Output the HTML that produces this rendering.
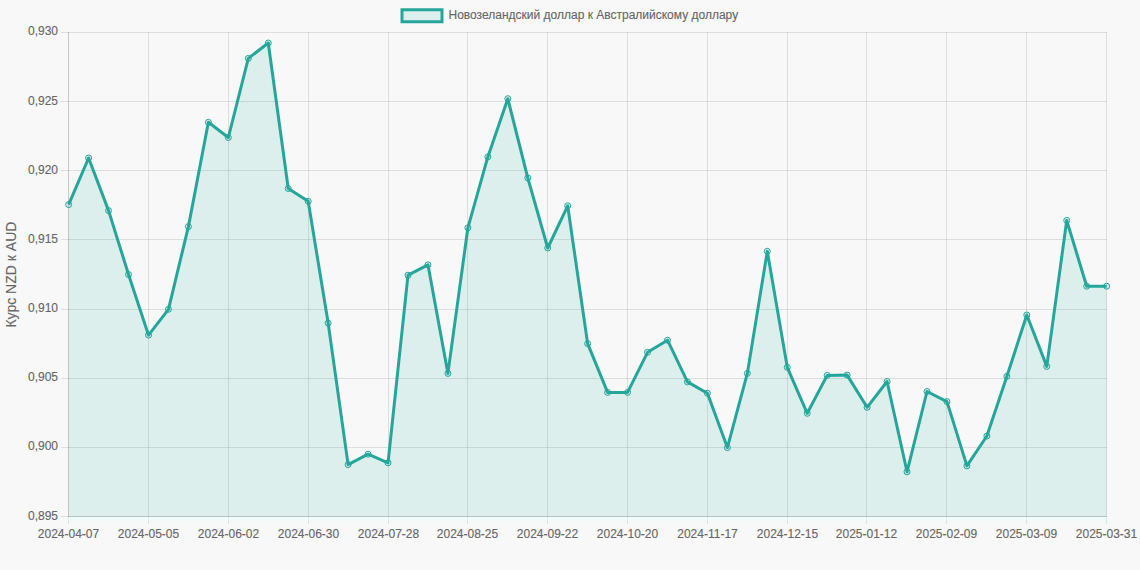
<!DOCTYPE html>
<html><head><meta charset="utf-8"><style>html,body{margin:0;padding:0;background:#f8f8f8;}svg{display:block}</style></head>
<body><svg width="1140" height="570" viewBox="0 0 1140 570">
<rect x="0" y="0" width="1140" height="570" fill="#f8f8f8"/>
<path d="M61 32.5H1107 M61 101.5H1107 M61 170.5H1107 M61 239.5H1107 M61 309.5H1107 M61 378.5H1107 M61 447.5H1107 M61 516.5H1107 M68.5 32V524 M148.5 32V524 M228.5 32V524 M308.5 32V524 M388.5 32V524 M467.5 32V524 M547.5 32V524 M627.5 32V524 M707.5 32V524 M787.5 32V524 M866.5 32V524 M946.5 32V524 M1026.5 32V524 M1106.5 32V524" stroke="rgba(0,0,0,0.1)" stroke-width="1" fill="none"/>
<path d="M68.5 32V517M68 516.5H1107" stroke="rgba(0,0,0,0.1)" stroke-width="1" fill="none"/>
<defs><linearGradient id="gb" x1="0" y1="0" x2="0" y2="1"><stop offset="0" stop-color="rgb(225,255,252)" stop-opacity="0.55"/><stop offset="1" stop-color="rgb(225,255,252)" stop-opacity="0"/></linearGradient></defs><rect x="68" y="517" width="1039" height="7" fill="url(#gb)"/>
<polygon points="68.65,204.60 88.61,158.00 108.57,210.60 128.53,274.50 148.50,335.10 168.46,309.30 188.42,226.60 208.38,122.30 228.34,137.50 248.30,58.40 268.27,43.00 288.23,188.50 308.19,201.30 328.15,323.10 348.11,464.60 368.07,454.20 388.03,462.80 408.00,275.20 427.96,264.80 447.92,373.40 467.88,227.80 487.84,156.90 507.80,98.70 527.77,177.90 547.73,248.00 567.69,205.80 587.65,343.60 607.61,392.40 627.57,392.40 647.53,352.30 667.50,340.20 687.46,381.90 707.42,393.20 727.38,447.60 747.34,373.40 767.30,251.30 787.27,367.30 807.23,413.30 827.19,375.40 847.15,375.10 867.11,407.30 887.07,381.50 907.03,471.80 927.00,391.50 946.96,401.60 966.92,465.90 986.88,436.00 1006.84,376.40 1026.80,315.00 1046.77,366.40 1066.73,220.40 1086.69,286.20 1106.65,286.20 1106.65,516.5 68.65,516.5" fill="rgba(40,178,164,0.13)"/>
<polyline points="68.65,204.60 88.61,158.00 108.57,210.60 128.53,274.50 148.50,335.10 168.46,309.30 188.42,226.60 208.38,122.30 228.34,137.50 248.30,58.40 268.27,43.00 288.23,188.50 308.19,201.30 328.15,323.10 348.11,464.60 368.07,454.20 388.03,462.80 408.00,275.20 427.96,264.80 447.92,373.40 467.88,227.80 487.84,156.90 507.80,98.70 527.77,177.90 547.73,248.00 567.69,205.80 587.65,343.60 607.61,392.40 627.57,392.40 647.53,352.30 667.50,340.20 687.46,381.90 707.42,393.20 727.38,447.60 747.34,373.40 767.30,251.30 787.27,367.30 807.23,413.30 827.19,375.40 847.15,375.10 867.11,407.30 887.07,381.50 907.03,471.80 927.00,391.50 946.96,401.60 966.92,465.90 986.88,436.00 1006.84,376.40 1026.80,315.00 1046.77,366.40 1066.73,220.40 1086.69,286.20 1106.65,286.20" fill="none" stroke="rgb(38,166,154)" stroke-width="3" stroke-linejoin="round"/>
<circle cx="68.65" cy="204.60" r="3" fill="rgba(40,178,164,0.13)" stroke="rgb(38,166,154)" stroke-width="1"/>
<circle cx="88.61" cy="158.00" r="3" fill="rgba(40,178,164,0.13)" stroke="rgb(38,166,154)" stroke-width="1"/>
<circle cx="108.57" cy="210.60" r="3" fill="rgba(40,178,164,0.13)" stroke="rgb(38,166,154)" stroke-width="1"/>
<circle cx="128.53" cy="274.50" r="3" fill="rgba(40,178,164,0.13)" stroke="rgb(38,166,154)" stroke-width="1"/>
<circle cx="148.50" cy="335.10" r="3" fill="rgba(40,178,164,0.13)" stroke="rgb(38,166,154)" stroke-width="1"/>
<circle cx="168.46" cy="309.30" r="3" fill="rgba(40,178,164,0.13)" stroke="rgb(38,166,154)" stroke-width="1"/>
<circle cx="188.42" cy="226.60" r="3" fill="rgba(40,178,164,0.13)" stroke="rgb(38,166,154)" stroke-width="1"/>
<circle cx="208.38" cy="122.30" r="3" fill="rgba(40,178,164,0.13)" stroke="rgb(38,166,154)" stroke-width="1"/>
<circle cx="228.34" cy="137.50" r="3" fill="rgba(40,178,164,0.13)" stroke="rgb(38,166,154)" stroke-width="1"/>
<circle cx="248.30" cy="58.40" r="3" fill="rgba(40,178,164,0.13)" stroke="rgb(38,166,154)" stroke-width="1"/>
<circle cx="268.27" cy="43.00" r="3" fill="rgba(40,178,164,0.13)" stroke="rgb(38,166,154)" stroke-width="1"/>
<circle cx="288.23" cy="188.50" r="3" fill="rgba(40,178,164,0.13)" stroke="rgb(38,166,154)" stroke-width="1"/>
<circle cx="308.19" cy="201.30" r="3" fill="rgba(40,178,164,0.13)" stroke="rgb(38,166,154)" stroke-width="1"/>
<circle cx="328.15" cy="323.10" r="3" fill="rgba(40,178,164,0.13)" stroke="rgb(38,166,154)" stroke-width="1"/>
<circle cx="348.11" cy="464.60" r="3" fill="rgba(40,178,164,0.13)" stroke="rgb(38,166,154)" stroke-width="1"/>
<circle cx="368.07" cy="454.20" r="3" fill="rgba(40,178,164,0.13)" stroke="rgb(38,166,154)" stroke-width="1"/>
<circle cx="388.03" cy="462.80" r="3" fill="rgba(40,178,164,0.13)" stroke="rgb(38,166,154)" stroke-width="1"/>
<circle cx="408.00" cy="275.20" r="3" fill="rgba(40,178,164,0.13)" stroke="rgb(38,166,154)" stroke-width="1"/>
<circle cx="427.96" cy="264.80" r="3" fill="rgba(40,178,164,0.13)" stroke="rgb(38,166,154)" stroke-width="1"/>
<circle cx="447.92" cy="373.40" r="3" fill="rgba(40,178,164,0.13)" stroke="rgb(38,166,154)" stroke-width="1"/>
<circle cx="467.88" cy="227.80" r="3" fill="rgba(40,178,164,0.13)" stroke="rgb(38,166,154)" stroke-width="1"/>
<circle cx="487.84" cy="156.90" r="3" fill="rgba(40,178,164,0.13)" stroke="rgb(38,166,154)" stroke-width="1"/>
<circle cx="507.80" cy="98.70" r="3" fill="rgba(40,178,164,0.13)" stroke="rgb(38,166,154)" stroke-width="1"/>
<circle cx="527.77" cy="177.90" r="3" fill="rgba(40,178,164,0.13)" stroke="rgb(38,166,154)" stroke-width="1"/>
<circle cx="547.73" cy="248.00" r="3" fill="rgba(40,178,164,0.13)" stroke="rgb(38,166,154)" stroke-width="1"/>
<circle cx="567.69" cy="205.80" r="3" fill="rgba(40,178,164,0.13)" stroke="rgb(38,166,154)" stroke-width="1"/>
<circle cx="587.65" cy="343.60" r="3" fill="rgba(40,178,164,0.13)" stroke="rgb(38,166,154)" stroke-width="1"/>
<circle cx="607.61" cy="392.40" r="3" fill="rgba(40,178,164,0.13)" stroke="rgb(38,166,154)" stroke-width="1"/>
<circle cx="627.57" cy="392.40" r="3" fill="rgba(40,178,164,0.13)" stroke="rgb(38,166,154)" stroke-width="1"/>
<circle cx="647.53" cy="352.30" r="3" fill="rgba(40,178,164,0.13)" stroke="rgb(38,166,154)" stroke-width="1"/>
<circle cx="667.50" cy="340.20" r="3" fill="rgba(40,178,164,0.13)" stroke="rgb(38,166,154)" stroke-width="1"/>
<circle cx="687.46" cy="381.90" r="3" fill="rgba(40,178,164,0.13)" stroke="rgb(38,166,154)" stroke-width="1"/>
<circle cx="707.42" cy="393.20" r="3" fill="rgba(40,178,164,0.13)" stroke="rgb(38,166,154)" stroke-width="1"/>
<circle cx="727.38" cy="447.60" r="3" fill="rgba(40,178,164,0.13)" stroke="rgb(38,166,154)" stroke-width="1"/>
<circle cx="747.34" cy="373.40" r="3" fill="rgba(40,178,164,0.13)" stroke="rgb(38,166,154)" stroke-width="1"/>
<circle cx="767.30" cy="251.30" r="3" fill="rgba(40,178,164,0.13)" stroke="rgb(38,166,154)" stroke-width="1"/>
<circle cx="787.27" cy="367.30" r="3" fill="rgba(40,178,164,0.13)" stroke="rgb(38,166,154)" stroke-width="1"/>
<circle cx="807.23" cy="413.30" r="3" fill="rgba(40,178,164,0.13)" stroke="rgb(38,166,154)" stroke-width="1"/>
<circle cx="827.19" cy="375.40" r="3" fill="rgba(40,178,164,0.13)" stroke="rgb(38,166,154)" stroke-width="1"/>
<circle cx="847.15" cy="375.10" r="3" fill="rgba(40,178,164,0.13)" stroke="rgb(38,166,154)" stroke-width="1"/>
<circle cx="867.11" cy="407.30" r="3" fill="rgba(40,178,164,0.13)" stroke="rgb(38,166,154)" stroke-width="1"/>
<circle cx="887.07" cy="381.50" r="3" fill="rgba(40,178,164,0.13)" stroke="rgb(38,166,154)" stroke-width="1"/>
<circle cx="907.03" cy="471.80" r="3" fill="rgba(40,178,164,0.13)" stroke="rgb(38,166,154)" stroke-width="1"/>
<circle cx="927.00" cy="391.50" r="3" fill="rgba(40,178,164,0.13)" stroke="rgb(38,166,154)" stroke-width="1"/>
<circle cx="946.96" cy="401.60" r="3" fill="rgba(40,178,164,0.13)" stroke="rgb(38,166,154)" stroke-width="1"/>
<circle cx="966.92" cy="465.90" r="3" fill="rgba(40,178,164,0.13)" stroke="rgb(38,166,154)" stroke-width="1"/>
<circle cx="986.88" cy="436.00" r="3" fill="rgba(40,178,164,0.13)" stroke="rgb(38,166,154)" stroke-width="1"/>
<circle cx="1006.84" cy="376.40" r="3" fill="rgba(40,178,164,0.13)" stroke="rgb(38,166,154)" stroke-width="1"/>
<circle cx="1026.80" cy="315.00" r="3" fill="rgba(40,178,164,0.13)" stroke="rgb(38,166,154)" stroke-width="1"/>
<circle cx="1046.77" cy="366.40" r="3" fill="rgba(40,178,164,0.13)" stroke="rgb(38,166,154)" stroke-width="1"/>
<circle cx="1066.73" cy="220.40" r="3" fill="rgba(40,178,164,0.13)" stroke="rgb(38,166,154)" stroke-width="1"/>
<circle cx="1086.69" cy="286.20" r="3" fill="rgba(40,178,164,0.13)" stroke="rgb(38,166,154)" stroke-width="1"/>
<circle cx="1106.65" cy="286.20" r="3" fill="rgba(40,178,164,0.13)" stroke="rgb(38,166,154)" stroke-width="1"/>
<g font-family="Liberation Sans, sans-serif" font-size="12" fill="#666" stroke="#666" stroke-width="0.12"><text x="58.0" y="35" text-anchor="end">0,930</text><text x="58.0" y="105" text-anchor="end">0,925</text><text x="58.0" y="174" text-anchor="end">0,920</text><text x="58.0" y="243" text-anchor="end">0,915</text><text x="58.0" y="312" text-anchor="end">0,910</text><text x="58.0" y="381" text-anchor="end">0,905</text><text x="58.0" y="450" text-anchor="end">0,900</text><text x="58.0" y="520" text-anchor="end">0,895</text><text x="68.5" y="538" text-anchor="middle">2024-04-07</text><text x="148.5" y="538" text-anchor="middle">2024-05-05</text><text x="228.5" y="538" text-anchor="middle">2024-06-02</text><text x="308.5" y="538" text-anchor="middle">2024-06-30</text><text x="388.5" y="538" text-anchor="middle">2024-07-28</text><text x="467.5" y="538" text-anchor="middle">2024-08-25</text><text x="547.5" y="538" text-anchor="middle">2024-09-22</text><text x="627.5" y="538" text-anchor="middle">2024-10-20</text><text x="707.5" y="538" text-anchor="middle">2024-11-17</text><text x="787.5" y="538" text-anchor="middle">2024-12-15</text><text x="866.5" y="538" text-anchor="middle">2025-01-12</text><text x="946.5" y="538" text-anchor="middle">2025-02-09</text><text x="1026.5" y="538" text-anchor="middle">2025-03-09</text><text x="1106.5" y="538" text-anchor="middle">2025-03-31</text><text x="448.5" y="19" text-anchor="start">Новозеландский доллар к Австралийскому доллару</text></g>
<text transform="translate(16,274.6) rotate(-90)" text-anchor="middle" font-family="Liberation Sans, sans-serif" font-size="14" fill="#666" stroke="#666" stroke-width="0.1">Курс NZD к AUD</text>
<rect x="402" y="9.75" width="40" height="12" fill="rgba(40,178,164,0.13)" stroke="rgb(38,166,154)" stroke-width="3"/>
</svg></body></html>
